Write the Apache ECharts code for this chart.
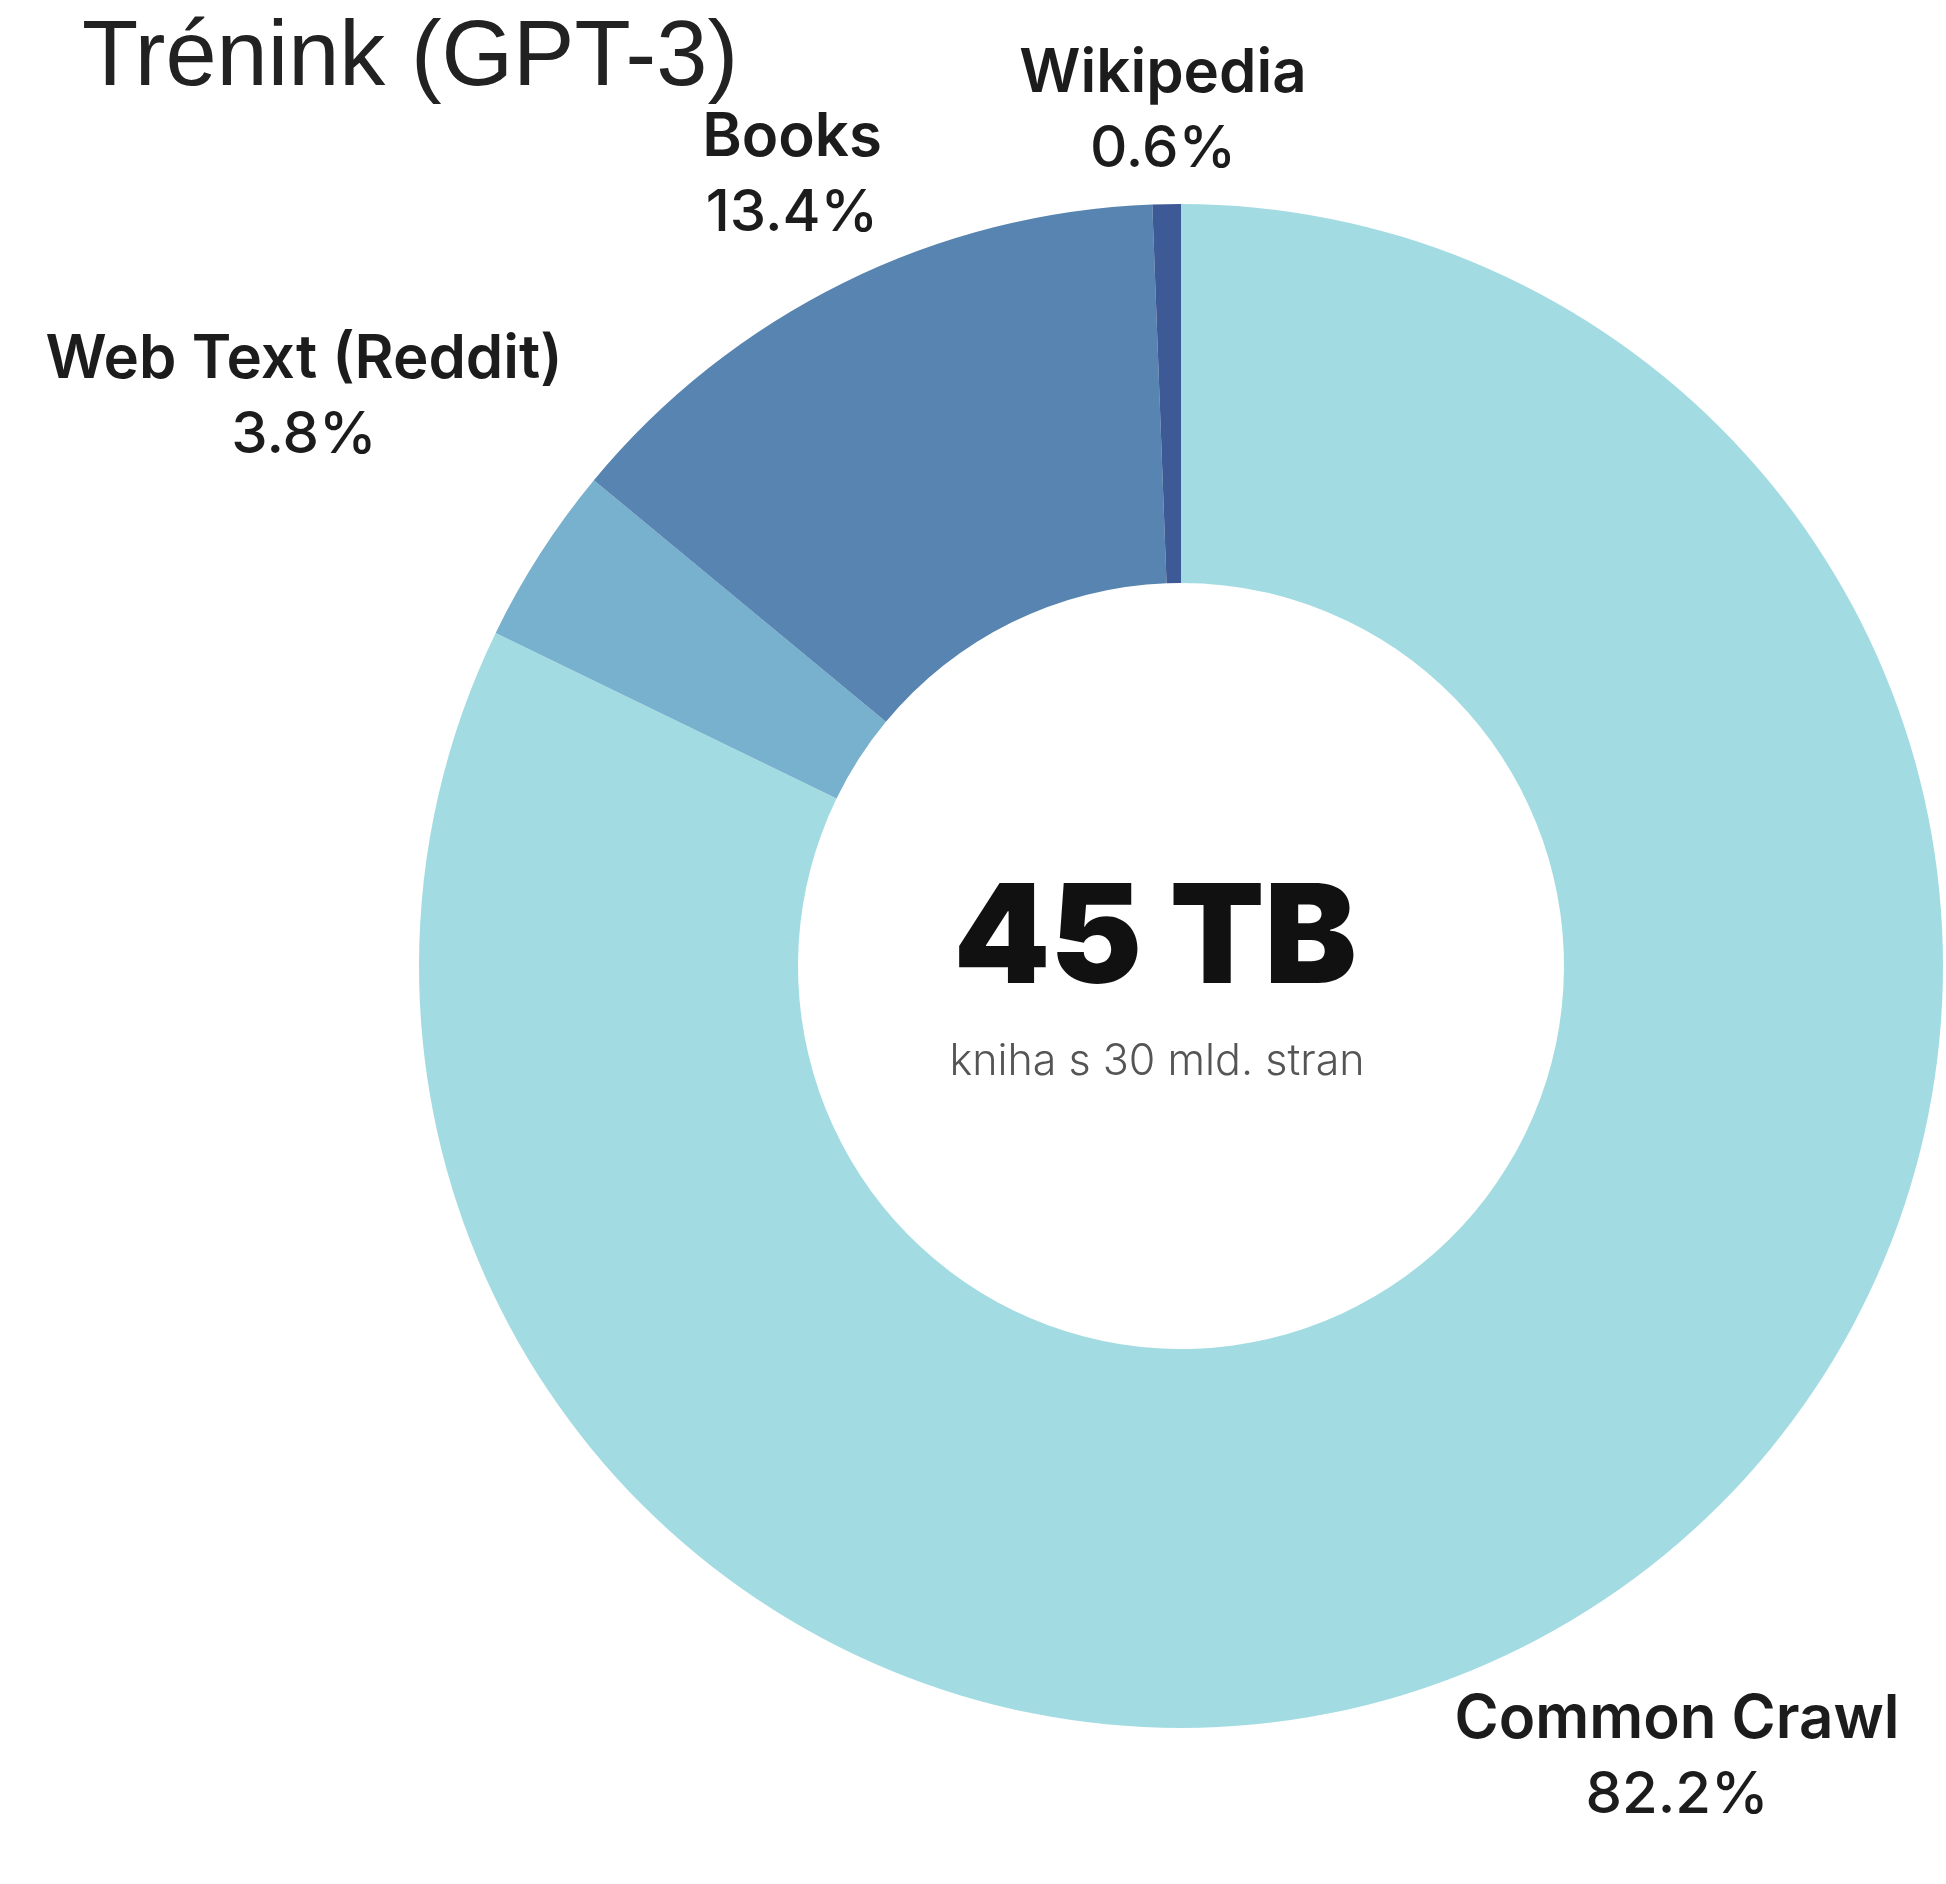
<!DOCTYPE html>
<html>
<head>
<meta charset="utf-8">
<title>Trénink (GPT-3)</title>
<script src="https://cdn.jsdelivr.net/npm/echarts@6/dist/echarts.min.js"></script>
<style>
    html, body {margin: 0; padding: 0; background: #fff;}
    #main {width: 1946px; height: 1884px;}
</style>
</head>
<body>
<div id="main"></div>
<script>
// data
const sources = ['Common Crawl', 'Web Text (Reddit)', 'Books', 'Wikipedia'];
const shares = [82.2, 3.8, 13.4, 0.6];
const colors = ['#a2dce2', '#77b1cd', '#5784b0', '#3d5a96'];
const totalText = '45 TB';
const totalNote = 'kniha s 30 mld. stran';

// where each label sits (center of the two-line block)
const labelPos = [[1677, 1758], [304, 398], [792, 176], [1163, 112]];

const myChart = echarts.init(document.getElementById('main'));
myChart.setOption({
    backgroundColor: '#fff',
    title: {
        text: 'Trénink (GPT-3)',
        left: 82,
        top: 14,
        padding: 0,
        textStyle: {
            fontFamily: 'Liberation Sans',
            fontWeight: 'normal',
            fontSize: 92,
            color: '#222'
        }
    },
    graphic: [
        {
            type: 'text',
            x: 1155,
            y: 942,
            style: {
                text: totalText,
                font: '900 138px Inter',
                fill: '#111',
                textAlign: 'center',
                textVerticalAlign: 'middle'
            }
        }, {
            type: 'text',
            x: 1157,
            y: 1062,
            style: {
                text: totalNote,
                font: '300 43px Inter',
                fill: '#555',
                textAlign: 'center',
                textVerticalAlign: 'middle'
            }
        }
    ],
    series: [
        {
            type: 'pie',
            center: [1181, 966],
            radius: [383, 762],
            startAngle: 90,
            clockwise: true,
            silent: true,
            animation: false,
            label: {
                show: true,
                position: 'outside',
                overflow: 'none',
                formatter: p => `{n|${p.name}}\n{v|${p.value}%}`,
                rich: {
                    n: {
                        fontFamily: 'Inter',
                        fontWeight: 600,
                        fontSize: 60,
                        lineHeight: 76,
                        color: '#1c1c1c',
                        align: 'center'
                    },
                    v: {
                        fontFamily: 'Inter',
                        fontWeight: 500,
                        fontSize: 58,
                        lineHeight: 76,
                        color: '#1c1c1c',
                        align: 'center'
                    }
                }
            },
            labelLine: {show: false},
            labelLayout: params => ({
                x: labelPos[params.dataIndex][0],
                y: labelPos[params.dataIndex][1],
                align: 'center',
                verticalAlign: 'middle'
            }),
            data: sources.map((name, i) => ({
                name: name,
                value: shares[i],
                itemStyle: {color: colors[i]}
            }))
        }
    ]
});
</script>
</body>
</html>
